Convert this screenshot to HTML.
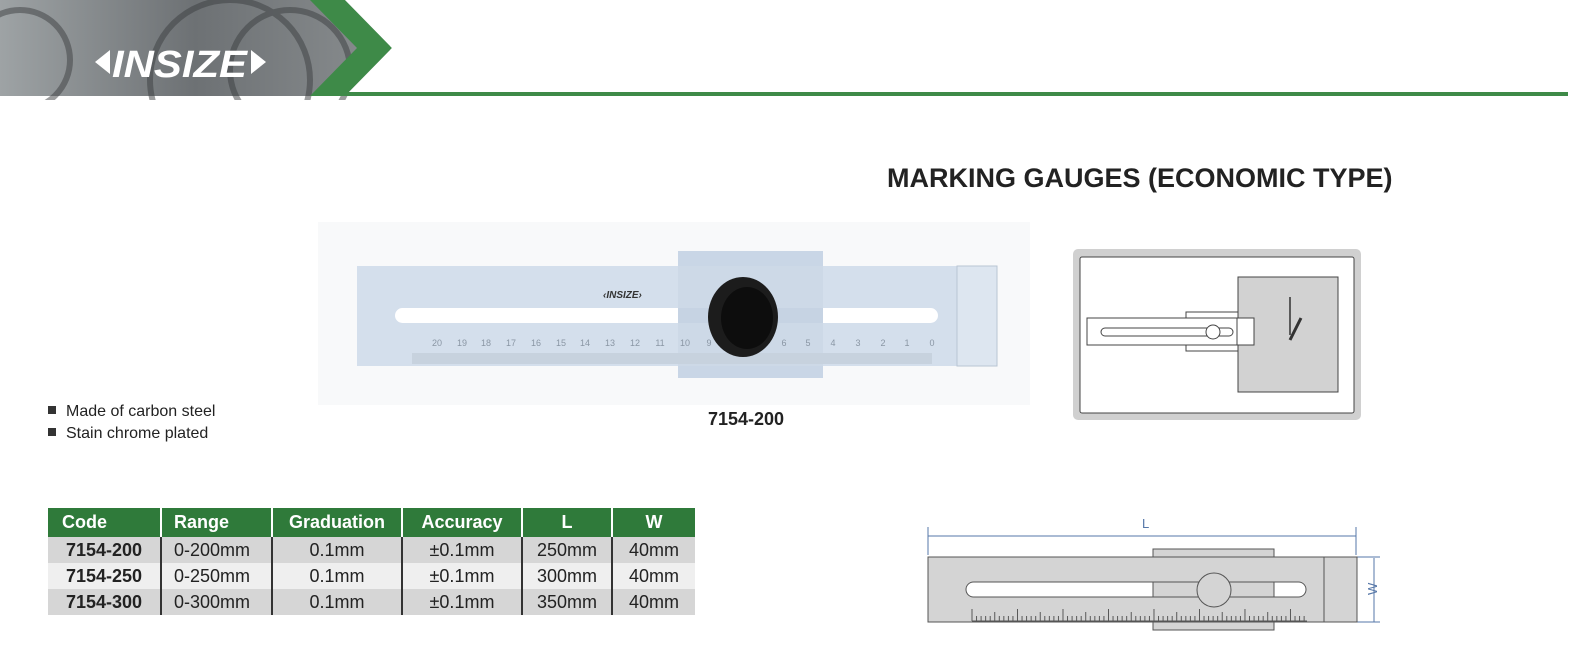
<!DOCTYPE html>
<html><head><meta charset="utf-8"><style>
body{margin:0;width:1588px;height:650px;background:#fff;position:relative;overflow:hidden;font-family:"Liberation Sans",Arial,sans-serif}
.a{position:absolute}
table{border-collapse:collapse;position:absolute;left:48px;top:508px;font-size:18px}
td{height:26px;padding:0;text-align:center;border-left:2px solid #fff}
td:first-child{border-left:none}
tr.h td{background:#2f7a3a;color:#fff;font-weight:bold;height:29px}
tr.r1 td,tr.r3 td{background:#d6d6d6}
tr.r2 td{background:#efefef}
tr:not(.h) td{border-left:2px solid #333;color:#222}
tr:not(.h) td:first-child{border-left:none;font-weight:bold}
</style></head><body>
<svg class="a" style="left:0;top:0" width="1588" height="100">
<defs><linearGradient id="g" x1="0" x2="1"><stop offset="0" stop-color="#9ea3a5"/><stop offset=".5" stop-color="#6d7174"/><stop offset="1" stop-color="#8a8e90"/></linearGradient></defs>
<rect x="0" y="0" width="390" height="96" fill="url(#g)"/>
<g stroke="#3b3e40" stroke-width="6" fill="none" opacity=".5"><circle cx="20" cy="60" r="50"/><circle cx="230" cy="80" r="80"/><circle cx="290" cy="70" r="60"/></g>
<polygon points="310,0 345,0 392,48 345,96 310,96 357,48" fill="#3e8a48"/>
<polygon points="345,0 1588,0 1588,96 345,96 392,48" fill="#fff"/>
<rect x="345" y="92" width="1223" height="4" fill="#3e8a48"/>
<text x="112" y="77" font-family="Liberation Sans" font-weight="bold" font-style="italic" font-size="38" fill="#fff" textLength="135" lengthAdjust="spacingAndGlyphs">INSIZE</text>
<polygon points="95,62 110,50 110,74" fill="#fff"/><polygon points="266,62 251,50 251,74" fill="#fff"/>
</svg>
<div class="a" style="left:887px;top:163px;font-size:27px;font-weight:bold;color:#222">MARKING GAUGES (ECONOMIC TYPE)</div>
<svg class="a" style="left:0;top:0" width="1588" height="650">
<rect x="318" y="222" width="712" height="183" fill="#f8f9fa"/>
<rect x="678" y="251" width="145" height="127" fill="#c9d6e6"/>
<rect x="357" y="266" width="640" height="100" fill="#d4dfec"/>
<rect x="957" y="266" width="40" height="100" fill="#dde6f0" stroke="#b9c5d3"/>
<rect x="678" y="266" width="145" height="100" fill="#c8d5e5" opacity=".6"/>
<rect x="395" y="308" width="543" height="15" rx="7.5" fill="#fff"/>
<rect x="678" y="308" width="145" height="15" fill="#c6d3e3"/>
<text x="603" y="298" font-size="10" font-weight="bold" font-style="italic" fill="#333">‹INSIZE›</text>
<g font-size="9" fill="#8a96a4" text-anchor="middle">
<text x="437" y="346">20</text><text x="462" y="346">19</text><text x="486" y="346">18</text><text x="511" y="346">17</text><text x="536" y="346">16</text><text x="561" y="346">15</text><text x="585" y="346">14</text><text x="610" y="346">13</text><text x="635" y="346">12</text><text x="660" y="346">11</text><text x="685" y="346">10</text><text x="709" y="346">9</text><text x="734" y="346">8</text><text x="759" y="346">7</text><text x="784" y="346">6</text><text x="808" y="346">5</text><text x="833" y="346">4</text><text x="858" y="346">3</text><text x="883" y="346">2</text><text x="907" y="346">1</text><text x="932" y="346">0</text></g>
<rect x="412" y="353" width="520" height="11" fill="#c7d2de"/>
<ellipse cx="743" cy="317" rx="35" ry="40" fill="#1c1c1c"/>
<ellipse cx="747" cy="318" rx="26" ry="31" fill="#0d0d0d"/>
<text x="708" y="425" font-size="18" font-weight="bold" fill="#222">7154-200</text>
<rect x="1073" y="249" width="288" height="171" rx="5" fill="#d0d0d0"/>
<rect x="1080" y="257" width="274" height="156" rx="2" fill="#fff" stroke="#444"/>
<rect x="1238" y="277" width="100" height="115" fill="#d2d2d2" stroke="#444"/>
<rect x="1186" y="312" width="52" height="39" fill="#fff" stroke="#444"/>
<rect x="1087" y="318" width="150" height="27" fill="#fff" stroke="#444"/>
<rect x="1237" y="318" width="17" height="27" fill="#fff" stroke="#444"/>
<rect x="1101" y="328" width="132" height="8" rx="4" fill="#fff" stroke="#444"/>
<circle cx="1213" cy="332" r="7" fill="#fff" stroke="#444"/>
<line x1="1290" y1="297" x2="1290" y2="335" stroke="#333" stroke-width="1.5"/>
<line x1="1301" y1="318" x2="1290" y2="340" stroke="#333" stroke-width="3"/>
<g stroke="#5677a8" fill="#5677a8"><line x1="928" y1="536" x2="1356" y2="536"/><line x1="928" y1="527" x2="928" y2="555"/><line x1="1356" y1="527" x2="1356" y2="555"/><line x1="1374" y1="558" x2="1374" y2="622"/><line x1="1357" y1="557" x2="1380" y2="557"/><line x1="1357" y1="622" x2="1380" y2="622"/></g>
<text x="1142" y="528" font-size="13" fill="#5677a8">L</text>
<text x="1368" y="594" font-size="13" fill="#5677a8" transform="rotate(-90 1373 590)">W</text>
<rect x="1153" y="549" width="121" height="81" fill="#d4d4d4" stroke="#555"/>
<rect x="928" y="557" width="429" height="65" fill="#d4d4d4" stroke="#555"/>
<line x1="1324" y1="557" x2="1324" y2="622" stroke="#555"/>
<rect x="966" y="582" width="340" height="15" rx="7.5" fill="#fff" stroke="#555"/>
<rect x="1153" y="582" width="121" height="15" fill="#d4d4d4" stroke="#555"/>
<circle cx="1214" cy="590" r="17" fill="#d4d4d4" stroke="#555"/>
<line x1="972" y1="621" x2="1307" y2="621" stroke="#555"/>
</svg>
<svg class="a" style="left:12px;top:0" width="1588" height="650"><g stroke="#555" transform="translate(960 0) scale(0.968 1) translate(-960 0)">
<path d="M960 621V609M964.7 621V616M969.4 621V616M974.1 621V616M978.8 621V616M983.5 621V612M988.2 621V616M992.9 621V616M997.6 621V616M1002.3 621V616M1007 621V609M1011.7 621V616M1016.4 621V616M1021.1 621V616M1025.8 621V616M1030.5 621V612M1035.2 621V616M1039.9 621V616M1044.6 621V616M1049.3 621V616M1054 621V609M1058.7 621V616M1063.4 621V616M1068.1 621V616M1072.8 621V616M1077.5 621V612M1082.2 621V616M1086.9 621V616M1091.6 621V616M1096.3 621V616M1101 621V609M1105.7 621V616M1110.4 621V616M1115.1 621V616M1119.8 621V616M1124.5 621V612M1129.2 621V616M1133.9 621V616M1138.6 621V616M1143.3 621V616M1148 621V609M1152.7 621V616M1157.4 621V616M1162.1 621V616M1166.8 621V616M1171.5 621V612M1176.2 621V616M1180.9 621V616M1185.6 621V616M1190.3 621V616M1195 621V609M1199.7 621V616M1204.4 621V616M1209.1 621V616M1213.8 621V616M1218.5 621V612M1223.2 621V616M1227.9 621V616M1232.6 621V616M1237.3 621V616M1242 621V609M1246.7 621V616M1251.4 621V616M1256.1 621V616M1260.8 621V616M1265.5 621V612M1270.2 621V616M1274.9 621V616M1279.6 621V616M1284.3 621V616M1289 621V609M1293.7 621V616M1298.4 621V616M1303.1 621V616"/></g></svg>
<div class="a" style="left:48px;top:401px;font-size:16px;color:#222;line-height:22px">
<div><span style="display:inline-block;width:8px;height:8px;background:#333;margin-right:10px;vertical-align:2px"></span>Made of carbon steel</div>
<div><span style="display:inline-block;width:8px;height:8px;background:#333;margin-right:10px;vertical-align:2px"></span>Stain chrome plated</div></div>
<table>
<tr class="h"><td style="text-align:left;padding-left:14px;width:98px">Code</td><td style="text-align:left;padding-left:12px;width:97px">Range</td><td style="width:128px">Graduation</td><td style="width:118px">Accuracy</td><td style="width:88px">L</td><td style="width:82px">W</td></tr>
<tr class="r1"><td>7154-200</td><td style="text-align:left;padding-left:12px">0-200mm</td><td>0.1mm</td><td>±0.1mm</td><td>250mm</td><td>40mm</td></tr>
<tr class="r2"><td>7154-250</td><td style="text-align:left;padding-left:12px">0-250mm</td><td>0.1mm</td><td>±0.1mm</td><td>300mm</td><td>40mm</td></tr>
<tr class="r3"><td>7154-300</td><td style="text-align:left;padding-left:12px">0-300mm</td><td>0.1mm</td><td>±0.1mm</td><td>350mm</td><td>40mm</td></tr>
</table>
</body></html>
